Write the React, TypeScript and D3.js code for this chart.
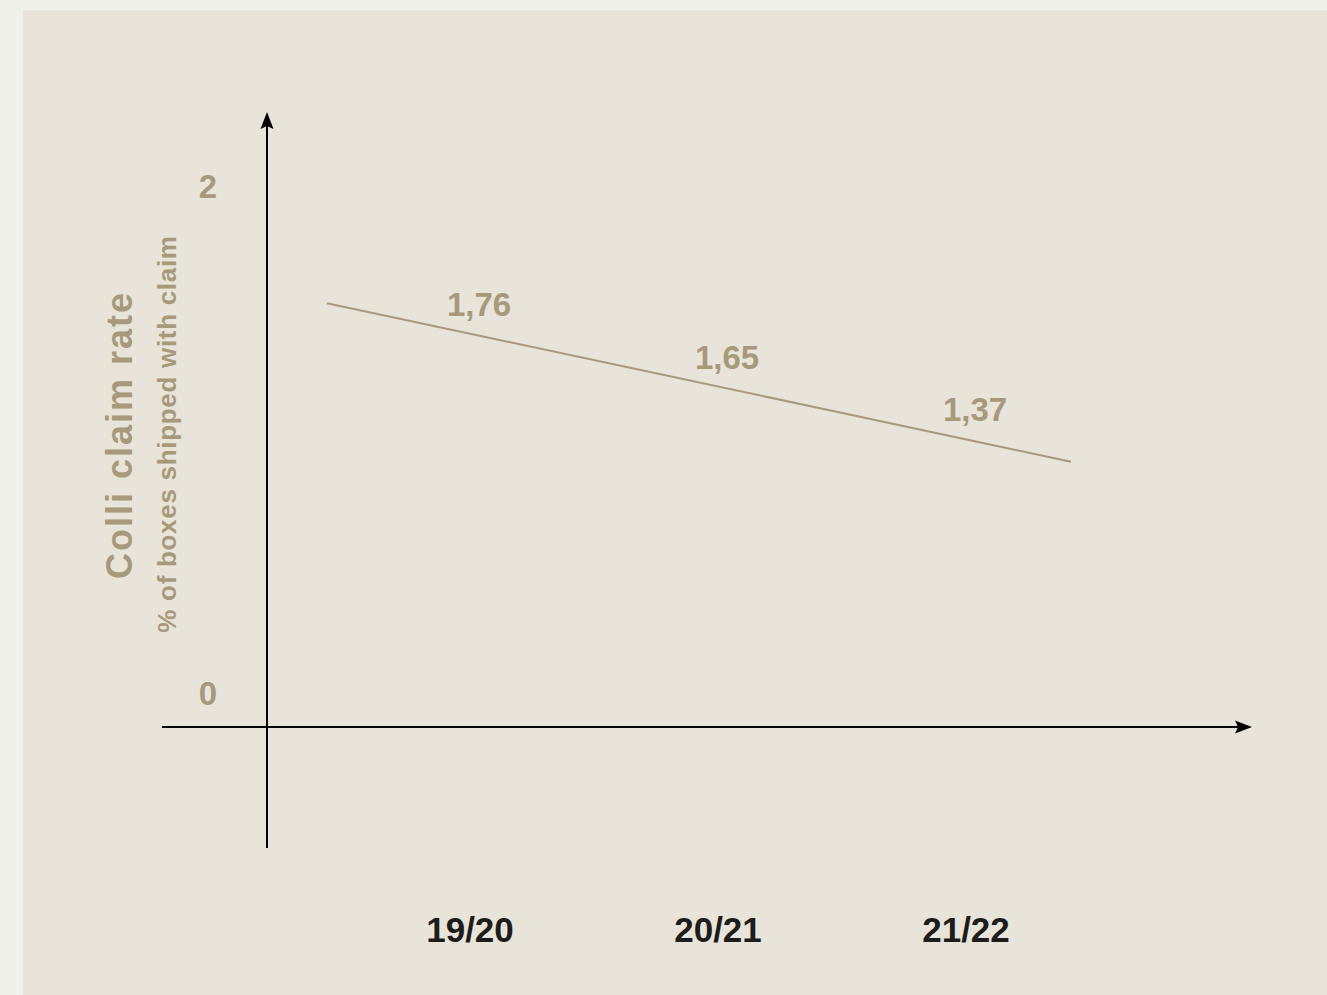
import React from "react";
import * as d3 from "d3";

// Season categories and the colli claim rate (% of boxes shipped with a claim)
const seasons: string[] = ["19/20", "20/21", "21/22"];
const claimRates: number[] = [1.76, 1.65, 1.37];
const yTickValues: number[] = [0, 2];
const valueLabels: string[] = ["1,76", "1,65", "1,37"];

const W = 1327;
const H = 995;

const TAN = "#a8997a";
const INK = "#1c1c1a";
const FONT = "'Liberation Sans', Arial, Helvetica, sans-serif";

// least-squares trend through the seasonal values (x in season index units)
function trend(values: number[]) {
  const xs = values.map((_, i) => i);
  const mx = d3.mean(xs) as number;
  const my = d3.mean(values) as number;
  const num = d3.sum(xs, (x, i) => (x - mx) * (values[i] - my));
  const den = d3.sum(xs, (x) => (x - mx) * (x - mx));
  const slope = num / den;
  return (x: number) => my + slope * (x - mx);
}

export default function App() {
  const axisX = 267;
  const axisY = 727;

  // category positions along the time axis
  const x = d3.scaleLinear().domain([0, seasons.length - 1]).range([470, 966]);
  // value scale for the trend line
  const y = d3.scaleLinear().domain([0, 2]).range([818, 276.4]);
  // tick label placement on the vertical axis
  const yTick = d3.scaleLinear().domain([0, 2]).range([705, 198]);

  const fit = trend(claimRates);
  const trendExtent: [number, number] = [-0.577, 2.423];
  const linePath = d3
    .line<number>()
    .x((i) => x(i))
    .y((i) => y(fit(i)))(trendExtent) as string;

  const arrowUp = `M${axisX},112 L${axisX - 6.5},129 L${axisX},126 L${axisX + 6.5},129 Z`;
  const arrowRight = `M1252,${axisY} L1235,${axisY - 6.5} L1238,${axisY} L1235,${axisY + 6.5} Z`;

  return (
    <svg
      width={W}
      height={H}
      viewBox={`0 0 ${W} ${H}`}
      style={{ position: "fixed", left: 0, top: 0, display: "block" }}
    >
      <rect x={0} y={0} width={W} height={H} fill="#f0f0eb" />
      <rect x={23} y={10} width={W - 23} height={H - 10} fill="#e8e4da" />

      {/* axes */}
      <line x1={axisX} x2={axisX} y1={848} y2={124} stroke="#000" strokeWidth={2} />
      <path d={arrowUp} fill="#000" />
      <line x1={162} x2={1240} y1={axisY} y2={axisY} stroke="#000" strokeWidth={2} />
      <path d={arrowRight} fill="#000" />

      {/* y tick labels */}
      {yTickValues.map((t) => (
        <text
          key={t}
          x={208}
          y={yTick(t)}
          textAnchor="middle"
          fontFamily={FONT}
          fontWeight="bold"
          fontSize={33}
          fill={TAN}
        >
          {t}
        </text>
      ))}

      {/* axis titles */}
      <text
        transform="translate(132,435) rotate(-90)"
        textAnchor="middle"
        fontFamily={FONT}
        fontWeight="bold"
        fontSize={36}
        letterSpacing={2}
        fill={TAN}
      >
        Colli claim rate
      </text>
      <text
        transform="translate(176,434) rotate(-90)"
        textAnchor="middle"
        fontFamily={FONT}
        fontWeight="bold"
        fontSize={26}
        letterSpacing={0.7}
        fill={TAN}
      >
        % of boxes shipped with claim
      </text>

      {/* trend line */}
      <path d={linePath} fill="none" stroke={TAN} strokeWidth={2} />

      {/* value labels */}
      {claimRates.map((v, i) => (
        <text
          key={seasons[i]}
          x={x(i) + 9}
          y={y(fit(i)) - 18}
          textAnchor="middle"
          fontFamily={FONT}
          fontWeight="bold"
          fontSize={33}
          fill={TAN}
        >
          {valueLabels[i]}
        </text>
      ))}

      {/* season labels */}
      {seasons.map((s, i) => (
        <text
          key={s}
          x={x(i)}
          y={942}
          textAnchor="middle"
          fontFamily={FONT}
          fontWeight="bold"
          fontSize={35}
          fill={INK}
        >
          {s}
        </text>
      ))}
    </svg>
  );
}
